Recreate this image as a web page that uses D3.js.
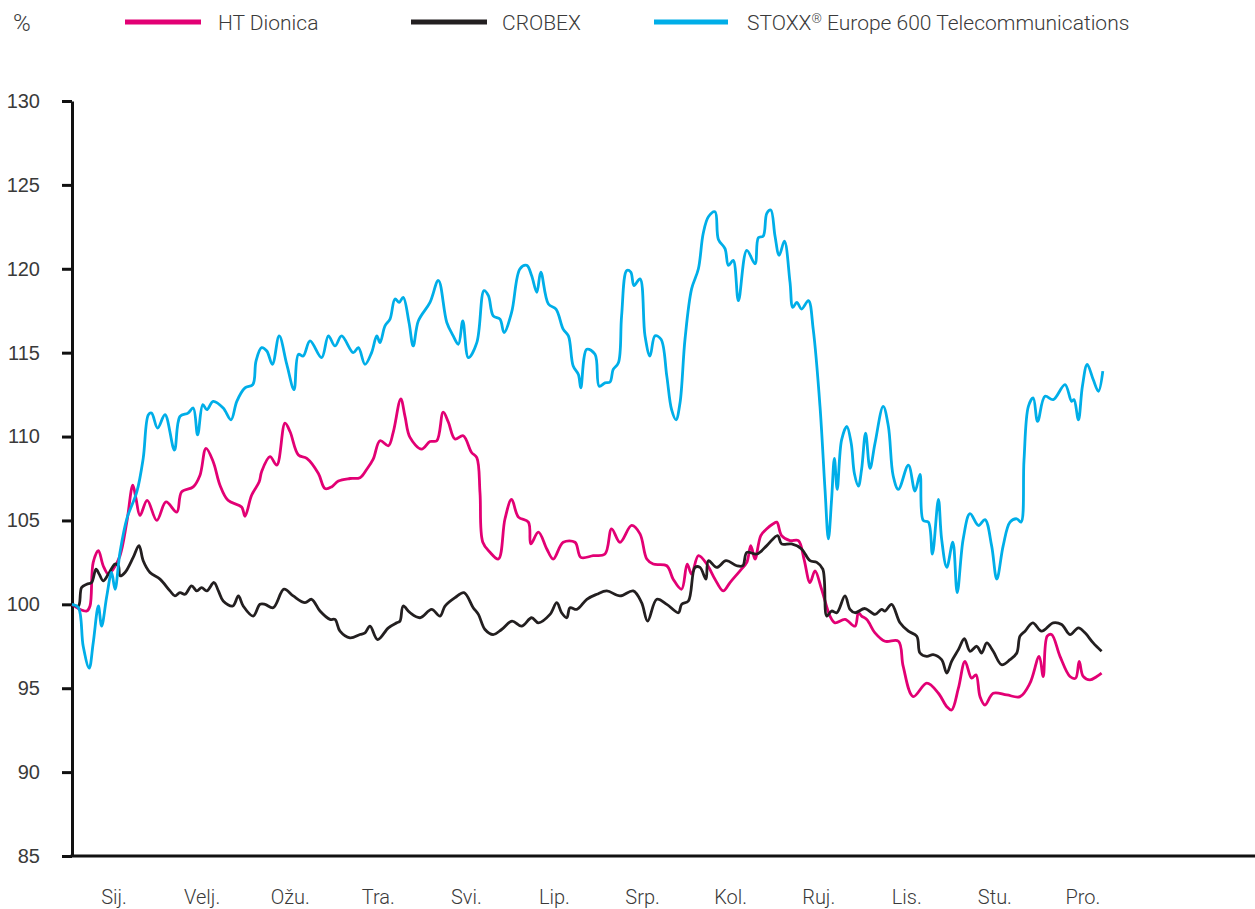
<!DOCTYPE html>
<html>
<head>
<meta charset="utf-8">
<script src="https://cdn.jsdelivr.net/npm/d3@7"></script>
<style>
  body { margin: 0; background: #fff; }
  svg { display: block; font-family: Roboto, "Liberation Sans", sans-serif; font-weight: 300; }
  .axis text { fill: #3a3a3a; font-size: 20px; }
  .legend text { fill: #3a3a3a; font-size: 21px; }
  .legend text.unit { font-size: 24px; }
</style>
</head>
<body>
<svg id="chart"></svg>
<script>
// month labels along the bottom
const months = ['Sij.', 'Velj.', 'Ožu.', 'Tra.', 'Svi.', 'Lip.', 'Srp.', 'Kol.', 'Ruj.', 'Lis.', 'Stu.', 'Pro.'];
const yTicks = [85, 90, 95, 100, 105, 110, 115, 120, 125, 130];

// [trading day, index value] pairs
const htDionica = [
  [0, 100], [1.6, 99.75], [3.7, 99.6], [4.5, 99.9], [5.3, 102.5], [6.6, 103.2], [7.8, 102.3], [9.1, 101.8],
  [10.3, 102.1], [12, 102.9], [13.7, 104.9], [15.2, 107.1], [16, 106.3], [17, 105.3], [18.8, 106.2],
  [21.2, 105.0], [23.5, 106.1], [26.2, 105.5], [27.4, 106.7], [30.3, 107.0], [32, 107.7], [33.5, 109.3],
  [35.3, 108.5], [37, 107.1], [39, 106.2], [42.4, 105.8], [43.25, 105.25], [44.9, 106.5], [46.8, 107.3],
  [47.4, 107.9], [49.5, 108.8], [51.2, 108.3], [53.25, 110.8], [54.5, 110.3], [56.6, 108.9], [58.7, 108.7],
  [61.6, 107.8], [63.25, 106.9], [64.9, 107.0], [66.6, 107.35], [69.5, 107.5], [72, 107.55], [73.7, 108.05],
  [75.3, 108.65], [77, 109.75], [79.1, 109.45], [80.3, 110.25], [82.2, 112.25], [83.25, 111.2], [84.5, 109.95],
  [87.4, 109.25], [89.5, 109.7], [91.2, 109.75], [92.8, 111.45], [94.1, 110.85], [95.75, 109.85], [97.8, 110.05],
  [99.9, 109.05], [101.2, 108.75], [102, 106.65], [102.7, 103.7], [104.5, 103.1], [106.6, 102.7], [108.25, 105.1],
  [109.9, 106.25], [111.6, 105.2], [114.1, 104.9], [114.7, 103.6], [116.6, 104.3], [118.7, 103.3], [120.3, 102.7],
  [122.8, 103.7], [125.75, 103.7], [127.2, 102.8], [130.3, 102.9], [133.25, 103.0], [134.9, 104.5], [137, 103.7],
  [139.9, 104.7], [142, 104.2], [143.7, 102.7], [145.3, 102.4], [148.7, 102.3], [150.3, 101.5], [152.4, 100.9],
  [153.8, 102.4], [154.9, 101.8], [156.6, 102.9], [158.7, 102.4], [160.75, 101.5], [162.8, 100.8], [164.5, 101.3],
  [167, 102.0], [168.7, 102.5], [169.7, 103.5], [170.75, 102.7], [172.2, 104.1], [173.7, 104.5], [175.3, 104.8],
  [176.2, 104.9], [177.4, 104.1], [179.5, 103.8], [181.6, 103.8], [183, 102.7], [184.5, 101.3], [185.75, 102.0],
  [187.4, 100.9], [189.5, 99.3], [190.75, 98.9], [193.25, 99.1], [195.75, 98.7], [196.6, 99.5], [197.4, 99.3],
  [198.7, 99.1], [200.75, 98.3], [203.25, 97.8], [206.6, 97.8], [207.8, 96.3], [210.3, 94.5], [213.7, 95.3],
  [216.6, 94.7], [218.7, 93.9], [219.9, 93.7], [221.6, 95.0], [223.25, 96.6], [224.9, 95.6], [226, 95.8],
  [227, 94.5], [228.25, 94.0], [230.3, 94.7], [233.7, 94.6], [237, 94.5], [239.5, 95.3], [241.8, 96.9],
  [242.8, 95.7], [243.8, 98.1], [244.9, 98.2], [247, 96.9], [249.5, 95.7], [250.9, 95.6], [251.8, 96.6],
  [252.8, 95.7], [254.5, 95.5], [256.2, 95.7], [257.4, 95.9]
];

const crobex = [
  [0, 100], [1.6, 99.9], [2.4, 101.0], [3.7, 101.2], [4.9, 101.3], [6, 102.1], [6.8, 101.8], [7.8, 101.4],
  [9.1, 101.8], [10.75, 102.4], [11.6, 102.3], [12, 101.7], [13.25, 101.9], [15.3, 102.8], [16.75, 103.5],
  [17.8, 102.6], [19.5, 101.9], [22, 101.5], [24.5, 100.8], [25.75, 100.5], [27, 100.7], [28.25, 100.6],
  [29.9, 101.1], [31.2, 100.8], [32.4, 101.0], [33.7, 100.8], [35.5, 101.3], [36.6, 100.8], [37.8, 100.2],
  [40.2, 99.9], [41.6, 100.5], [42.8, 99.9], [45.3, 99.3], [47, 100.0], [48.25, 100.0], [50.3, 99.8],
  [53, 100.9], [55.3, 100.5], [58.25, 100.1], [59.9, 100.3], [62, 99.6], [64.5, 99.1], [65.75, 99.1],
  [67, 98.4], [69.5, 98.0], [72, 98.2], [73.25, 98.3], [74.5, 98.7], [76.4, 97.9], [79.1, 98.6], [81.2, 98.9],
  [82, 99.0], [82.8, 99.9], [84.5, 99.5], [87, 99.2], [89.9, 99.7], [92, 99.3], [93.25, 99.9], [95.75, 100.4],
  [98, 100.7], [100.3, 99.8], [101.6, 99.4], [103.25, 98.5], [105.3, 98.2], [107.4, 98.5], [110, 99.0],
  [112.4, 98.7], [114.9, 99.2], [116.6, 98.9], [119.5, 99.4], [121.2, 100.1], [122.4, 99.5], [123.7, 99.2],
  [124.5, 99.8], [126.2, 99.7], [128.7, 100.3], [131.2, 100.6], [133.7, 100.8], [137, 100.5], [140.3, 100.8],
  [142.4, 100.1], [143.9, 99.0], [146.2, 100.3], [148.7, 100.0], [151.6, 99.5], [152.4, 100.0], [154.1, 100.2],
  [155.75, 102.2], [157, 102.2], [158.5, 101.5], [159.1, 102.6], [161.2, 102.2], [163.5, 102.6], [166.2, 102.3],
  [167.7, 102.3], [168.7, 103.1], [171.2, 103.0], [173.7, 103.5], [176.4, 104.1], [177.4, 103.6], [179.9, 103.6],
  [182.4, 103.3], [184.5, 102.6], [186.2, 102.5], [187.7, 102.1], [188.7, 99.3], [189.9, 99.6], [191.2, 99.5],
  [193.25, 100.5], [194.5, 99.7], [195.75, 99.5], [198.25, 99.75], [200.75, 99.4], [202.4, 99.7], [203.25, 99.6],
  [204.9, 100.0], [207, 98.9], [209.1, 98.4], [211.2, 98.1], [212, 97.1], [213.7, 96.9], [215.3, 97.0],
  [217.4, 96.7], [218.7, 95.9], [219.9, 96.6], [221.6, 97.3], [223.1, 97.95], [224.5, 97.2], [226.2, 97.5],
  [227.4, 97.1], [228.7, 97.7], [230.3, 97.2], [232.4, 96.4], [234.5, 96.7], [236.2, 97.1], [237, 98.1],
  [238.25, 98.4], [240.2, 98.9], [242.4, 98.4], [245.3, 98.9], [247.4, 98.8], [249.5, 98.2], [251.6, 98.6],
  [253.25, 98.3], [255.3, 97.7], [257.4, 97.2]
];

const stoxxTelecom = [
  [0, 100], [1.6, 99.8], [2.8, 97.5], [4.3, 96.2], [5.3, 97.7], [6.6, 99.9], [7.4, 98.7], [8.7, 100.5],
  [9.9, 101.9], [10.75, 100.9], [12, 103.1], [13.7, 105.1], [16.2, 106.7], [17.8, 108.7], [19.1, 111.3],
  [19.9, 111.4], [21.4, 110.5], [23.25, 111.3], [25.6, 109.2], [27, 111.2], [29, 111.4], [30.3, 111.7],
  [31.4, 110.1], [32.7, 111.9], [33.7, 111.6], [35.3, 112.1], [37.8, 111.7], [39.75, 111.0], [41.2, 112.1],
  [43.25, 112.9], [45.2, 113.1], [46, 114.5], [47.4, 115.3], [48.7, 115.1], [50.1, 114.3], [51.8, 116.0],
  [53.7, 114.3], [55.5, 112.8], [56.6, 114.9], [57.8, 114.8], [59.5, 115.7], [62.4, 114.7], [64.1, 116.0],
  [65.75, 115.4], [67.4, 116.0], [70.3, 115.0], [71.6, 115.3], [73.25, 114.3], [74.9, 115.0], [76.2, 116.0],
  [77, 115.6], [78.25, 116.6], [79.5, 117.0], [80.75, 118.2], [81.8, 118.0], [82.8, 118.3], [84.25, 116.8],
  [85.3, 115.4], [86.6, 116.9], [89.5, 118.0], [91.6, 119.3], [93.7, 116.8], [95.3, 116.0], [96.6, 115.5],
  [97.7, 116.9], [99.1, 114.7], [101.2, 115.6], [103, 118.7], [104.1, 118.4], [105.3, 117.2], [107, 117.0],
  [108, 116.2], [109.9, 117.4], [112, 120.0], [113.7, 120.2], [114.9, 119.6], [116.2, 118.6], [117.2, 119.8],
  [119.1, 117.9], [121, 117.6], [122.8, 116.4], [124.1, 116.0], [125.3, 114.2], [126.6, 113.7], [127.2, 112.9],
  [128.7, 115.2], [130.75, 114.9], [131.8, 113.0], [133.25, 113.2], [134.5, 113.25], [135.3, 114.0],
  [136.6, 114.4], [137.4, 117.2], [138.7, 119.9], [139.7, 119.8], [140.5, 119.0], [142, 119.4], [143.25, 116.0],
  [144.5, 114.8], [145.75, 116.0], [147.25, 115.8], [148.7, 113.6], [149.9, 111.6], [151, 111.0], [152, 112.0],
  [153.25, 115.8], [154.9, 118.8], [156.6, 120.0], [157.8, 122.1], [159.1, 123.1], [160.75, 123.4],
  [161.6, 121.75], [163.25, 121.2], [164.1, 120.2], [165.3, 120.5], [166.6, 118.1], [168.7, 121.1],
  [170.75, 120.3], [171.6, 121.85], [172.8, 121.95], [173.7, 123.3], [174.7, 123.5], [175.75, 121.95],
  [176.8, 120.8], [178.1, 121.65], [179.5, 119.2], [180.2, 117.7], [181.2, 118.0], [182.4, 117.6],
  [184.1, 118.1], [185.3, 116.4], [187, 111.8], [188.25, 106.85], [189.1, 103.9], [189.9, 106.25],
  [190.6, 108.7], [191.3, 106.85], [192.4, 109.8], [193.7, 110.6], [194.8, 109.6], [195.6, 107.8],
  [196.6, 107.05], [197.4, 108.05], [198.4, 110.2], [199.5, 108.1], [200.75, 109.6], [202.8, 111.8],
  [204.1, 110.6], [205.3, 107.65], [206.6, 106.85], [209.1, 108.3], [210.75, 106.75], [212, 107.75],
  [212.8, 105.0], [214.1, 104.9], [215.1, 103.0], [216.6, 106.25], [217.4, 103.9], [218.7, 102.2],
  [220.2, 103.7], [221.3, 100.7], [222.8, 103.9], [224.5, 105.4], [226.6, 104.7], [228.25, 105.05],
  [229.9, 103.5], [231.2, 101.5], [232.8, 103.5], [234.5, 104.9], [236.2, 105.1], [237.25, 104.9], [238, 108.6],
  [239.1, 111.8], [240.3, 112.3], [241.4, 110.9], [243.25, 112.4], [245.3, 112.2], [248.25, 113.1],
  [249.9, 112.1], [250.5, 112.2], [251.6, 111.0], [252.6, 113.0], [253.8, 114.3], [255.3, 113.4],
  [256.6, 112.7], [257.7, 113.9]
];

const series = [
  { name: 'HT Dionica', values: htDionica, color: '#e20074' },
  { name: 'CROBEX', values: crobex, color: '#231f20' },
  { name: 'STOXX', sup: '®', rest: ' Europe 600 Telecommunications', values: stoxxTelecom, color: '#00aee8' }
];

const width = 1255;
const height = 909;
const margin = { top: 101, right: 0, bottom: 53, left: 72 };

const svg = d3.select('#chart')
  .attr('width', width)
  .attr('height', height);

const xScale = d3.scaleLinear()
  .domain([0, 258])
  .range([margin.left, 1104]);

const monthScale = d3.scaleBand()
  .domain(months)
  .range([70, 1127]);

const yScale = d3.scaleLinear()
  .domain([85, 130])
  .range([height - margin.bottom, margin.top]);

// y axis with ticks pointing left
const yAxisG = svg.append('g')
  .attr('class', 'axis y-axis')
  .attr('transform', `translate(${margin.left},0)`)
  .call(d3.axisLeft(yScale).tickValues(yTicks).tickSize(10).tickSizeOuter(0).tickPadding(22));
yAxisG.select('.domain').attr('stroke', '#111').attr('stroke-width', 3);
yAxisG.selectAll('.tick line').attr('stroke', '#111').attr('stroke-width', 3);
yAxisG.selectAll('.tick text').attr('dy', '0.32em');

// x axis: plain baseline plus month names
svg.append('line')
  .attr('x1', margin.left - 1.5)
  .attr('x2', width)
  .attr('y1', yScale(85))
  .attr('y2', yScale(85))
  .attr('stroke', '#111')
  .attr('stroke-width', 3);

svg.append('g')
  .attr('class', 'axis x-axis')
  .selectAll('text')
  .data(months)
  .join('text')
  .attr('x', (d) => monthScale(d) + monthScale.bandwidth() / 2)
  .attr('y', 904)
  .attr('text-anchor', 'middle')
  .text((d) => d);

// lines
const line = d3.line()
  .x((d) => xScale(d[0]))
  .y((d) => yScale(d[1]))
  .curve(d3.curveCatmullRom.alpha(0.5));

svg.append('g')
  .selectAll('path')
  .data(series)
  .join('path')
  .attr('fill', 'none')
  .attr('stroke', (d) => d.color)
  .attr('stroke-width', 2.8)
  .attr('stroke-linejoin', 'round')
  .attr('d', (d) => line(d.values));

// legend
const legend = svg.append('g').attr('class', 'legend');
legend.append('text')
  .attr('class', 'unit')
  .attr('x', 13)
  .attr('y', 31)
  .text('%');

const legendPos = [
  { x1: 125, x2: 201, tx: 218 },
  { x1: 411, x2: 487, tx: 502 },
  { x1: 654, x2: 728, tx: 747 }
];

legend.selectAll('line')
  .data(series)
  .join('line')
  .attr('x1', (d, i) => legendPos[i].x1)
  .attr('x2', (d, i) => legendPos[i].x2)
  .attr('y1', 22)
  .attr('y2', 22)
  .attr('stroke', (d) => d.color)
  .attr('stroke-width', 5);

const labels = legend.selectAll('text.label')
  .data(series)
  .join('text')
  .attr('class', 'label')
  .attr('x', (d, i) => legendPos[i].tx)
  .attr('y', 30);

labels.append('tspan').text((d) => d.name);
labels.filter((d) => d.sup)
  .append('tspan')
  .attr('dy', -7)
  .style('font-size', '13px')
  .text((d) => d.sup);
labels.filter((d) => d.rest)
  .append('tspan')
  .attr('dy', 7)
  .text((d) => d.rest);
</script>
</body>
</html>
